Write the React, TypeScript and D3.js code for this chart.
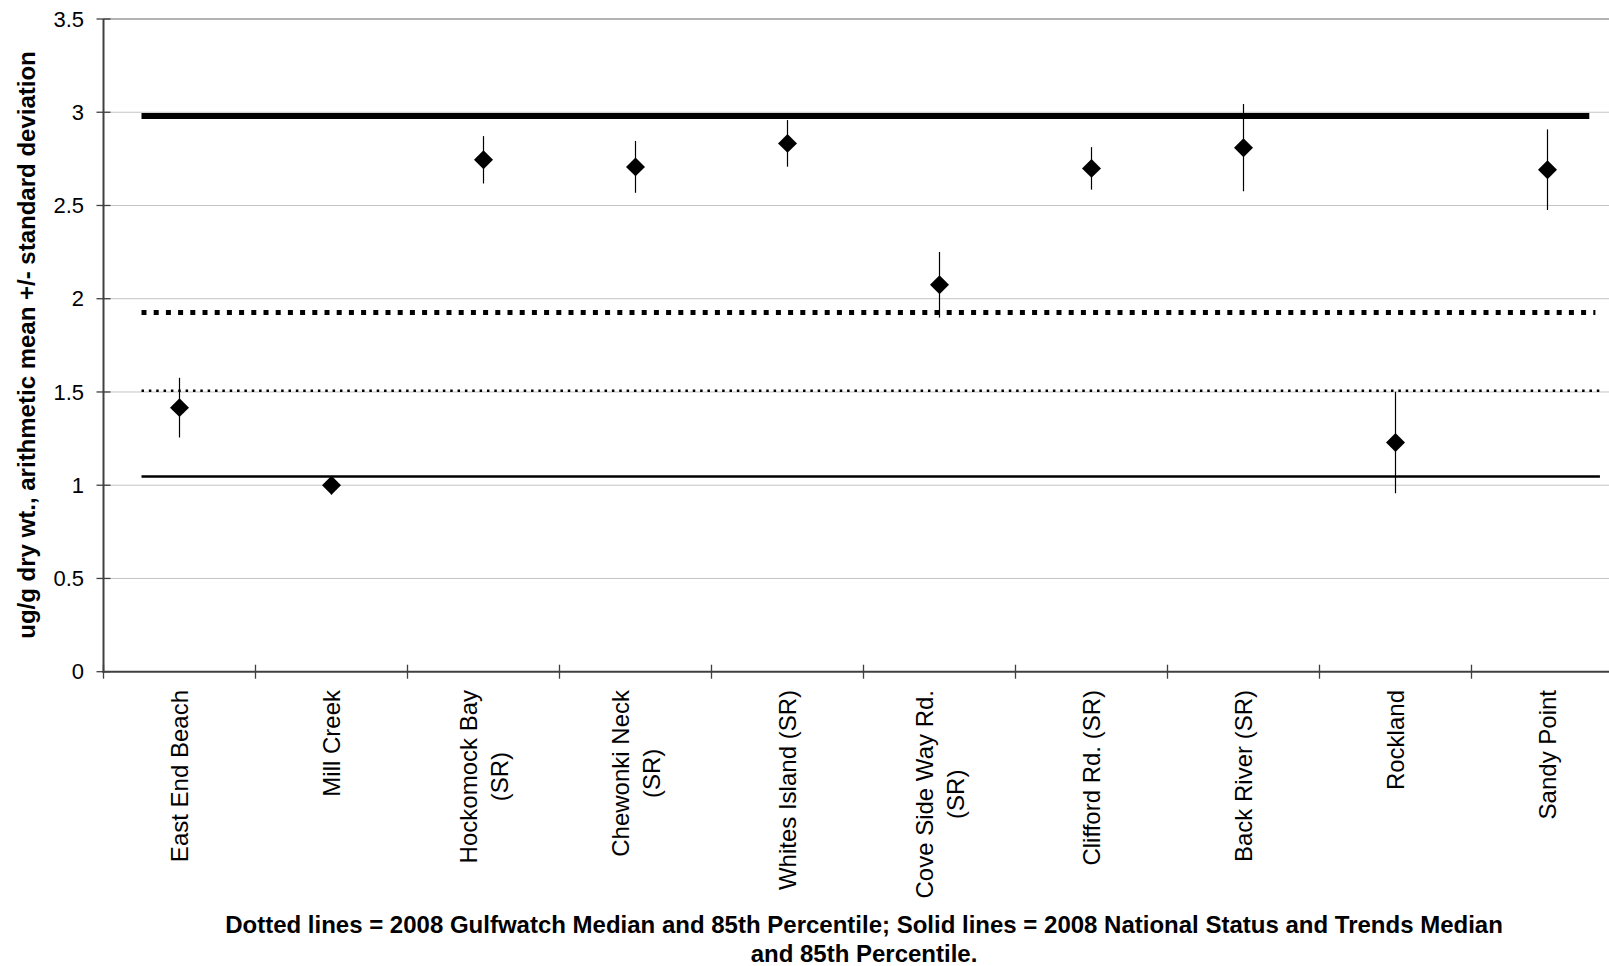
import React, { useEffect, useRef } from "react";
import * as d3 from "d3";

// Sampling sites along the x axis; "\n" splits a label over two lines
const sites: string[] = [
  "East End Beach",
  "Mill Creek",
  "Hockomock Bay\n(SR)",
  "Chewonki Neck\n(SR)",
  "Whites Island (SR)",
  "Cove Side Way Rd.\n(SR)",
  "Clifford Rd. (SR)",
  "Back River (SR)",
  "Rockland",
  "Sandy Point",
];

// Arithmetic mean (ug/g dry wt.) and standard deviation per site
const means: number[] = [1.416, 1.0, 2.745, 2.707, 2.833, 2.075, 2.699, 2.81, 1.229, 2.692];
const stdDevs: number[] = [0.16, 0.05, 0.127, 0.139, 0.125, 0.176, 0.114, 0.234, 0.272, 0.216];

// Benchmark lines: 2008 NS&T 85th percentile, Gulfwatch 85th, Gulfwatch median, NS&T median
const benchmarkNames: string[] = ["NST85", "GW85", "GWMedian", "NSTMedian"];
const benchmarkValues: number[] = [2.98, 1.926, 1.507, 1.047];

const yTicks: number[] = [0, 0.5, 1, 1.5, 2, 2.5, 3, 3.5];

const yTitle = "ug/g dry wt., arithmetic mean +/- standard deviation";
const captionLines: string[] = [
  "Dotted lines = 2008 Gulfwatch Median and 85th Percentile; Solid lines = 2008 National Status and Trends Median",
  "and 85th Percentile.",
];

const W = 1609;
const H = 966;
const FONT = "'Liberation Sans', Arial, Helvetica, sans-serif";

// stroke styles for the benchmark lines, in the same order as benchmarkValues
const benchmarkStyles = [
  { width: 6, dash: null as string | null, endBand: 9.775 },
  { width: 5, dash: "5,7.2", endBand: 9.815 },
  { width: 2.5, dash: "2.5,4.85", endBand: 9.855 },
  { width: 2.5, dash: null as string | null, endBand: 9.845 },
];

// square diamond marker; size = area
const diamond = {
  draw(ctx: any, size: number) {
    const r = Math.sqrt(size / 2);
    ctx.moveTo(0, -r);
    ctx.lineTo(r, 0);
    ctx.lineTo(0, r);
    ctx.lineTo(-r, 0);
    ctx.closePath();
  },
};

export default function App() {
  const ref = useRef<SVGSVGElement | null>(null);

  useEffect(() => {
    const svg = d3.select(ref.current);
    svg.selectAll("*").remove();

    const left = 103.5;
    const bandW = 152;
    const x = d3
      .scaleBand<string>()
      .domain(sites)
      .range([left, left + bandW * sites.length])
      .padding(0);
    const y = d3.scaleLinear().domain([0, 3.5]).range([671.7, 19]);

    const axisColor = "#404040";

    // horizontal gridlines
    svg
      .append("g")
      .selectAll("line")
      .data(yTicks.filter((t) => t > 0))
      .join("line")
      .attr("x1", left)
      .attr("x2", W)
      .attr("y1", (d) => y(d))
      .attr("y2", (d) => y(d))
      .attr("stroke", (d) => (d === 3.5 ? "#9a9a9a" : "#c4c4c4"))
      .attr("stroke-width", (d) => (d === 3.5 ? 1.5 : 1));

    // benchmark lines
    const bx0 = left + bandW * 0.25;
    svg
      .append("g")
      .selectAll("line")
      .data(benchmarkValues.map((v, i) => ({ v, name: benchmarkNames[i], s: benchmarkStyles[i] })))
      .join("line")
      .attr("class", (d) => d.name)
      .attr("x1", bx0)
      .attr("x2", (d) => left + bandW * d.s.endBand)
      .attr("y1", (d) => y(d.v))
      .attr("y2", (d) => y(d.v))
      .attr("stroke", "#000")
      .attr("stroke-width", (d) => d.s.width)
      .attr("stroke-dasharray", (d) => d.s.dash);

    // y axis
    const gy = svg.append("g");
    gy.append("line")
      .attr("x1", left)
      .attr("x2", left)
      .attr("y1", y(3.5))
      .attr("y2", y(0) + 1)
      .attr("stroke", axisColor)
      .attr("stroke-width", 2);
    gy.selectAll("line.tick")
      .data(yTicks)
      .join("line")
      .attr("class", "tick")
      .attr("x1", left - 7)
      .attr("x2", left + 7)
      .attr("y1", (d) => y(d))
      .attr("y2", (d) => y(d))
      .attr("stroke", axisColor)
      .attr("stroke-width", 1.3);
    gy.selectAll("text")
      .data(yTicks)
      .join("text")
      .attr("x", 84)
      .attr("y", (d) => y(d))
      .attr("dy", "0.35em")
      .attr("text-anchor", "end")
      .attr("font-family", FONT)
      .attr("font-size", 22)
      .attr("fill", "#000")
      .text((d) => d3.format("~g")(d));

    // y axis title
    svg
      .append("text")
      .attr("transform", `translate(35,345) rotate(-90)`)
      .attr("text-anchor", "middle")
      .attr("font-family", FONT)
      .attr("font-weight", "bold")
      .attr("font-size", 24)
      .attr("fill", "#000")
      .text(yTitle);

    // x axis
    const gx = svg.append("g");
    gx.append("line")
      .attr("x1", left - 1)
      .attr("x2", W)
      .attr("y1", y(0))
      .attr("y2", y(0))
      .attr("stroke", axisColor)
      .attr("stroke-width", 2);
    const boundaries = d3.range(sites.length + 1).map((i) => left + i * bandW);
    gx.selectAll("line.tick")
      .data(boundaries)
      .join("line")
      .attr("class", "tick")
      .attr("x1", (d) => d)
      .attr("x2", (d) => d)
      .attr("y1", y(0) - 7)
      .attr("y2", y(0) + 7)
      .attr("stroke", axisColor)
      .attr("stroke-width", 1.3);

    // rotated category labels, top-aligned under the axis
    const labelTop = 690;
    const lineGap = 31;
    sites.forEach((site) => {
      const lines = site.split("\n");
      const cx = (x(site) as number) + bandW / 2;
      const g = gx.append("g").attr("transform", `translate(${cx},${labelTop}) rotate(-90)`);
      const texts = lines.map((ln, i) =>
        g
          .append("text")
          .attr("y", (i - (lines.length - 1) / 2) * lineGap)
          .attr("dy", "0.36em")
          .attr("font-family", FONT)
          .attr("font-size", 24)
          .attr("fill", "#000")
          .text(ln)
      );
      const maxLen = d3.max(texts, (t) => (t.node() as SVGTextElement).getComputedTextLength()) || 0;
      texts.forEach((t) => t.attr("x", -maxLen / 2).attr("text-anchor", "middle"));
    });

    // error bars and mean markers
    const pts = sites.map((s, i) => ({ s, m: means[i], sd: stdDevs[i] }));
    const gp = svg.append("g");
    gp.selectAll("line")
      .data(pts)
      .join("line")
      .attr("x1", (d) => (x(d.s) as number) + bandW / 2)
      .attr("x2", (d) => (x(d.s) as number) + bandW / 2)
      .attr("y1", (d) => y(d.m + d.sd))
      .attr("y2", (d) => y(d.m - d.sd))
      .attr("stroke", "#000")
      .attr("stroke-width", 1.2);
    const sym = d3.symbol().type(diamond as any).size(180);
    gp.selectAll("path")
      .data(pts)
      .join("path")
      .attr("transform", (d) => `translate(${(x(d.s) as number) + bandW / 2},${y(d.m)})`)
      .attr("d", sym() as string)
      .attr("fill", "#000");

    // caption under the chart
    svg
      .append("g")
      .selectAll("text")
      .data(captionLines)
      .join("text")
      .attr("x", 864)
      .attr("y", (_, i) => 933 + i * 29)
      .attr("text-anchor", "middle")
      .attr("font-family", FONT)
      .attr("font-weight", "bold")
      .attr("font-size", 24)
      .attr("fill", "#000")
      .text((d) => d);
  }, []);

  return (
    <svg
      ref={ref}
      width={W}
      height={H}
      style={{ position: "absolute", left: 0, top: 0, background: "#fff" }}
    />
  );
}
